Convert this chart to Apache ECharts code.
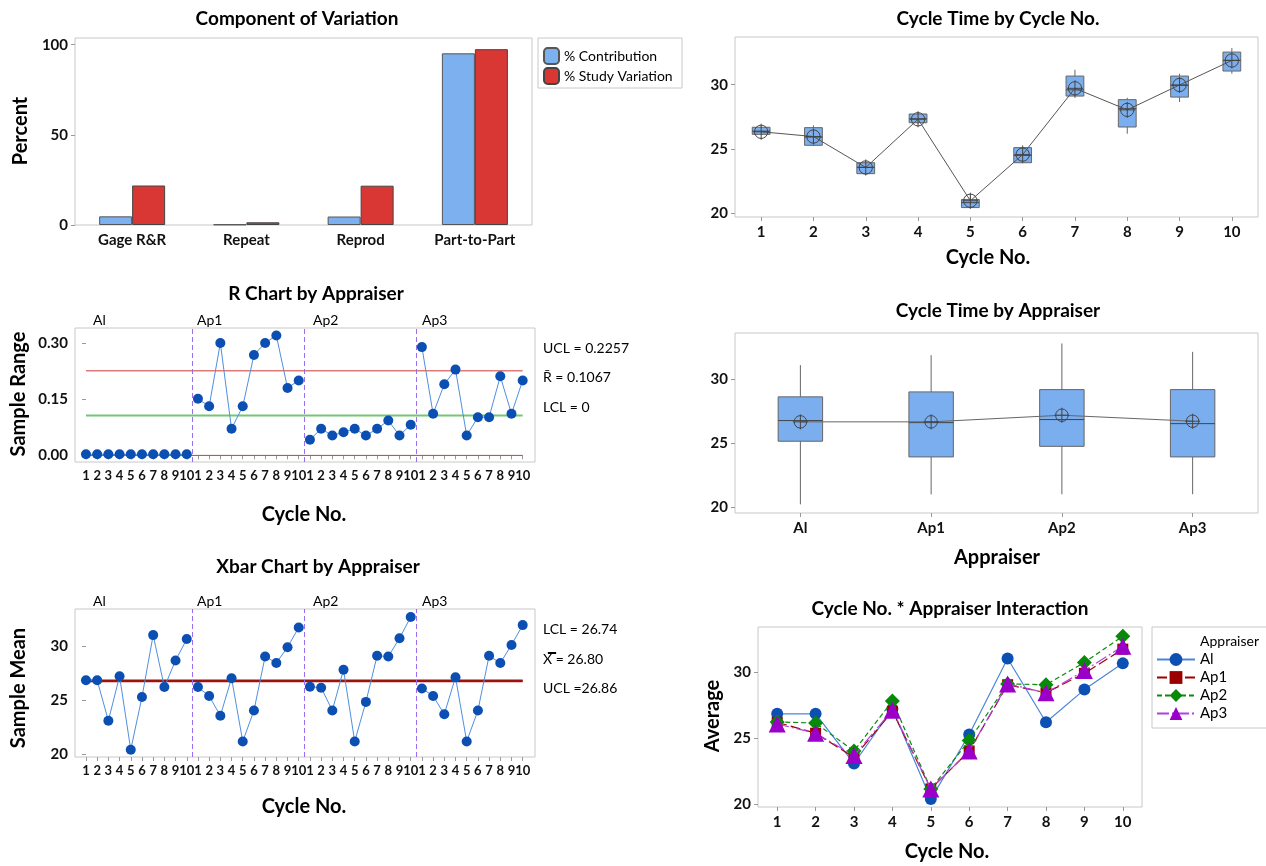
<!DOCTYPE html>
<html>
<head>
<meta charset="utf-8">
<script src="https://cdn.jsdelivr.net/npm/echarts@6/dist/echarts.min.js"></script>
<style>
html,body{margin:0;padding:0;background:#fff}
#main{width:1266px;height:866px}
</style>
</head>
<body>
<div id="main"></div>
<script>
// component of variation
var compCats = ['Gage R&R', 'Repeat', 'Reprod', 'Part-to-Part'];
var pctContribution = [4.8, 0.3, 4.7, 95.2];
var pctStudyVar = [21.9, 1.5, 21.8, 97.5];

// cycle time by cycle no. (min, q1, median, q3, max)
var cycleNos = ['1', '2', '3', '4', '5', '6', '7', '8', '9', '10'];
var cycleBoxes = [
	[26.10, 26.15, 26.40, 26.70, 26.75],
	[25.25, 25.30, 25.94, 26.67, 26.85],
	[23.05, 23.10, 23.60, 23.95, 24.06],
	[27.00, 27.05, 27.36, 27.73, 27.80],
	[20.40, 20.47, 20.85, 21.10, 21.30],
	[23.90, 23.95, 24.52, 25.12, 25.30],
	[28.97, 29.12, 29.60, 30.67, 31.16],
	[26.20, 26.72, 28.14, 28.84, 28.99],
	[28.66, 29.04, 29.95, 30.67, 30.85],
	[30.85, 31.06, 31.89, 32.53, 32.84]
];
var cycleMeans = [26.35, 25.98, 23.58, 27.32, 21.00, 24.58, 29.72, 28.05, 29.98, 31.88];

// appraisers
var appraisers = ['Al', 'Ap1', 'Ap2', 'Ap3'];
var apprBoxes = [
	[20.21, 25.16, 26.78, 28.64, 31.13],
	[20.99, 23.93, 26.62, 29.03, 31.91],
	[21.00, 24.76, 26.86, 29.21, 32.83],
	[21.00, 23.93, 26.54, 29.21, 32.17]
];
var apprMeans = [26.68, 26.68, 27.20, 26.73];

// sample ranges per appraiser, cycle 1..10
var rangeAl  = [0.003, 0.003, 0.003, 0.003, 0.003, 0.003, 0.003, 0.003, 0.003, 0.003];
var rangeAp1 = [0.151, 0.131, 0.300, 0.071, 0.131, 0.268, 0.300, 0.320, 0.180, 0.200];
var rangeAp2 = [0.042, 0.071, 0.053, 0.062, 0.071, 0.053, 0.071, 0.093, 0.053, 0.082];
var rangeAp3 = [0.289, 0.111, 0.190, 0.229, 0.053, 0.102, 0.102, 0.211, 0.111, 0.200];
var rUcl = 0.2257, rBar = 0.1067, rLcl = 0;

// sample means per appraiser, cycle 1..10
var meanAl  = [26.87, 26.87, 23.10, 27.24, 20.40, 25.30, 31.07, 26.23, 28.71, 30.70];
var meanAp1 = [26.23, 25.40, 23.56, 27.06, 21.17, 24.05, 29.08, 28.47, 29.94, 31.78];
var meanAp2 = [26.26, 26.17, 24.05, 27.85, 21.17, 24.85, 29.14, 29.08, 30.77, 32.76];
var meanAp3 = [26.10, 25.40, 23.70, 27.15, 21.17, 24.05, 29.14, 28.47, 30.15, 32.00];
var xUcl = 26.86, xBar = 26.80, xLcl = 26.74;

var rangeGroups = [rangeAl, rangeAp1, rangeAp2, rangeAp3];
var meanGroups = [meanAl, meanAp1, meanAp2, meanAp3];

var FONT = 'Lato';
var blueDot = '#0c4fb3', blueLine = '#4f8fdf', boxFill = '#7aaeee';
var meanSymbol = 'path://M0,-10A10,10,0,1,1,0,10A10,10,0,1,1,0,-10ZM0,-12L0,12M-12,0L12,0';

var pointIdx = [];
for (let i = 0; i < 40; i++) pointIdx.push(i);

function boxRenderer(ratio) {//custom box: whisker without caps, box, median
	return function (params, api) {
		let x = api.value(0);
		let lo = api.coord([x, api.value(1)]);
		let q1 = api.coord([x, api.value(2)]);
		let md = api.coord([x, api.value(3)]);
		let q3 = api.coord([x, api.value(4)]);
		let hi = api.coord([x, api.value(5)]);
		let w = api.size([1, 0])[0] * ratio;
		return {
			type: 'group',
			children: [
				{ type: 'line', shape: { x1: lo[0], y1: lo[1], x2: hi[0], y2: hi[1] }, style: { stroke: '#666', lineWidth: 1 } },
				{ type: 'rect', shape: { x: q3[0] - w / 2, y: q3[1], width: w, height: q1[1] - q3[1] }, style: { fill: boxFill, stroke: '#666', lineWidth: 1 } },
				{ type: 'line', shape: { x1: md[0] - w / 2, y1: md[1], x2: md[0] + w / 2, y2: md[1] }, style: { stroke: '#444', lineWidth: 1 } }
			]
		};
	};
}

var tickLabel = { fontFamily: FONT, fontWeight: 'bold', fontSize: 15, color: '#111' };
var axisTick = { show: true, length: 4, lineStyle: { color: '#999' } };

function yAxis(gi, min, max, vals, fmt) {
	return {
		type: 'value', gridIndex: gi, min: min, max: max,
		axisLine: { show: false }, splitLine: { show: false },
		axisTick: Object.assign({ customValues: vals }, axisTick),
		axisLabel: Object.assign({ customValues: vals, margin: 7, formatter: fmt }, tickLabel)
	};
}
function idxAxis(gi) {//40 points, labels 1..10 for each appraiser
	return {
		type: 'value', gridIndex: gi, min: -0.98, max: 40.1,
		axisLine: { show: false }, splitLine: { show: false },
		axisTick: Object.assign({ customValues: pointIdx }, axisTick),
		axisLabel: Object.assign({ customValues: pointIdx, margin: 7, formatter: function (v) { return String(v % 10 + 1); } }, tickLabel, { fontSize: 13 })
	};
}
function catAxis(gi, cats, ticks) {
	return {
		type: 'category', gridIndex: gi, data: cats, boundaryGap: true,
		axisLine: { show: false },
		axisTick: Object.assign({ alignWithLabel: true }, axisTick, { show: ticks }),
		axisLabel: Object.assign({ margin: 8, interval: 0 }, tickLabel)
	};
}
function flatLine(xi, yi, v, color, width) {
	return {
		type: 'line', xAxisIndex: xi, yAxisIndex: yi, data: [[0, v], [39, v]],
		symbol: 'none', silent: true, lineStyle: { color: color, width: width }, z: 1
	};
}
function dividers(xi, yi) {
	return {
		type: 'line', xAxisIndex: xi, yAxisIndex: yi, data: [], silent: true,
		markLine: {
			symbol: 'none', silent: true, label: { show: false },
			lineStyle: { color: '#9a6cf0', type: [5, 3], width: 1 },
			data: [{ xAxis: 9.5 }, { xAxis: 19.5 }, { xAxis: 29.5 }]
		}
	};
}

var series = [];
// panel 1 bars
series.push({
	name: '% Contribution', type: 'bar', xAxisIndex: 0, yAxisIndex: 0, data: pctContribution,
	barWidth: 33, barGap: '0%', itemStyle: { color: '#7cb0ee', borderColor: '#555', borderWidth: 1 }
});
series.push({
	name: '% Study Variation', type: 'bar', xAxisIndex: 0, yAxisIndex: 0, data: pctStudyVar,
	barWidth: 33, barGap: '0%', itemStyle: { color: '#d83734', borderColor: '#444', borderWidth: 1 }
});
// panel 2 cycle boxes
series.push({
	type: 'custom', xAxisIndex: 1, yAxisIndex: 1, renderItem: boxRenderer(0.34),
	encode: { x: 0, y: [1, 2, 3, 4, 5] },
	data: cycleBoxes.map(function (b, i) { return [i].concat(b); })
});
series.push({
	type: 'line', xAxisIndex: 1, yAxisIndex: 1, data: cycleMeans, symbol: meanSymbol, symbolSize: 16,
	itemStyle: { color: 'rgba(0,0,0,0)', borderColor: '#444', borderWidth: 1 },
	lineStyle: { color: '#555', width: 1 }, z: 5
});
// panel 3 R chart
series.push(dividers(2, 2));
series.push(flatLine(2, 2, rUcl, '#cc3b3b', 1));
series.push(flatLine(2, 2, rBar, '#72c872', 2));
series.push(flatLine(2, 2, rLcl, '#cc3b3b', 1));
rangeGroups.forEach(function (arr, g) {
	series.push({
		type: 'line', xAxisIndex: 2, yAxisIndex: 2,
		data: arr.map(function (v, k) { return [g * 10 + k, v]; }),
		symbol: 'circle', symbolSize: 10, itemStyle: { color: blueDot },
		lineStyle: { color: blueLine, width: 1 }, z: 4
	});
});
// panel 4 Xbar chart
series.push(dividers(3, 3));
series.push(flatLine(3, 3, xUcl, '#b00c0c', 1.5));
series.push(flatLine(3, 3, xLcl, '#b00c0c', 1.5));
series.push(flatLine(3, 3, xBar, '#8a1a10', 1));
meanGroups.forEach(function (arr, g) {
	series.push({
		type: 'line', xAxisIndex: 3, yAxisIndex: 3,
		data: arr.map(function (v, k) { return [g * 10 + k, v]; }),
		symbol: 'circle', symbolSize: 10, itemStyle: { color: blueDot },
		lineStyle: { color: blueLine, width: 1 }, z: 4
	});
});
// panel 5 appraiser boxes
series.push({
	type: 'custom', xAxisIndex: 4, yAxisIndex: 4, renderItem: boxRenderer(0.34),
	encode: { x: 0, y: [1, 2, 3, 4, 5] },
	data: apprBoxes.map(function (b, i) { return [i].concat(b); })
});
series.push({
	type: 'line', xAxisIndex: 4, yAxisIndex: 4, data: apprMeans, symbol: meanSymbol, symbolSize: 15,
	itemStyle: { color: 'rgba(0,0,0,0)', borderColor: '#444', borderWidth: 1 },
	lineStyle: { color: '#666', width: 1 }, z: 5
});
// panel 6 interaction
var interStyles = [
	{ symbol: 'circle', size: 12, mark: '#0c50b4', line: '#4a86d8', dash: 'solid' },
	{ symbol: 'rect', size: 11, mark: '#9a0000', line: '#a00000', dash: [10, 4] },
	{ symbol: 'diamond', size: 15, mark: '#078a07', line: '#0c8a0c', dash: [5, 3] },
	{ symbol: 'triangle', size: 17, mark: '#9a00c8', line: '#b040e0', dash: [12, 3, 2, 3] }
];
meanGroups.forEach(function (arr, g) {
	let s = interStyles[g];
	series.push({
		name: appraisers[g], type: 'line', xAxisIndex: 5, yAxisIndex: 5, data: arr,
		symbol: s.symbol, symbolSize: s.size, itemStyle: { color: s.mark },
		lineStyle: { color: s.line, width: 1.2, type: s.dash }, z: 3 + g
	});
});

function txt(text, x, y, font, rot) {
	return {
		type: 'text', x: x, y: y, rotation: rot || 0, silent: true,
		style: { text: text, font: font, fill: '#000', textAlign: rot ? 'center' : 'left', textVerticalAlign: 'middle' }
	};
}
function ctxt(text, x, y, font) {
	let t = txt(text, x, y, font);
	t.style.textAlign = 'center';
	return t;
}
var TB = 'bold 19px ' + FONT, TA = 'bold 20px ' + FONT, TN = '14px ' + FONT;
var graphics = [
	ctxt('Component of Variation', 297, 19, TB),
	ctxt('Cycle Time by Cycle No.', 998, 19, TB),
	ctxt('R Chart by Appraiser', 316, 294, TB),
	ctxt('Xbar Chart by Appraiser', 318, 567, TB),
	ctxt('Cycle Time by Appraiser', 998, 311, TB),
	ctxt('Cycle No. * Appraiser Interaction', 950, 609, TB),
	txt('Percent', 21, 131, TA, Math.PI / 2),
	txt('Sample Range', 19, 394, TA, Math.PI / 2),
	txt('Sample Mean', 19, 688, TA, Math.PI / 2),
	txt('Average', 713, 716, TA, Math.PI / 2),
	ctxt('Cycle No.', 988, 258, TA),
	ctxt('Cycle No.', 304, 515, TA),
	ctxt('Cycle No.', 304, 807, TA),
	ctxt('Appraiser', 997, 558, TA),
	ctxt('Cycle No.', 947, 852, TA),
	txt('Al', 93, 320, TN), txt('Ap1', 197, 320, TN), txt('Ap2', 313, 320, TN), txt('Ap3', 422, 320, TN),
	txt('Al', 93, 601, TN), txt('Ap1', 197, 601, TN), txt('Ap2', 313, 601, TN), txt('Ap3', 422, 601, TN),
	txt('UCL = 0.2257', 543, 348, TN), txt('R\u0304 = 0.1067', 543, 377, TN), txt('LCL = 0', 543, 407, TN),
	txt('LCL = 26.74', 543, 629, TN), txt('X\u033F = 26.80', 543, 659, TN), txt('UCL =26.86', 543, 688, TN),
	{ type: 'rect', shape: { x: 538, y: 38, width: 144, height: 50 }, style: { fill: 'none', stroke: '#c8c8c8', lineWidth: 1 }, silent: true },
	{ type: 'rect', shape: { x: 1152, y: 627, width: 130, height: 101 }, style: { fill: 'none', stroke: '#c8c8c8', lineWidth: 1 }, silent: true },
	txt('Appraiser', 1200, 641, TN)
];

var gridBase = { show: true, borderColor: '#c8c8c8', borderWidth: 1, backgroundColor: '#fff', containLabel: false };
var option = {
	animation: false,
	backgroundColor: '#fff',
	grid: [
		Object.assign({ left: 75, top: 38, width: 457, height: 187 }, gridBase),
		Object.assign({ left: 735, top: 37, width: 523, height: 180 }, gridBase),
		Object.assign({ left: 75, top: 328, width: 460, height: 134 }, gridBase),
		Object.assign({ left: 75, top: 609, width: 460, height: 148 }, gridBase),
		Object.assign({ left: 735, top: 333, width: 523, height: 180 }, gridBase),
		Object.assign({ left: 758, top: 627, width: 384, height: 180 }, gridBase)
	],
	xAxis: [
		catAxis(0, compCats, false),
		catAxis(1, cycleNos, true),
		idxAxis(2),
		idxAxis(3),
		catAxis(4, appraisers, true),
		catAxis(5, cycleNos, true)
	],
	yAxis: [
		yAxis(0, 0, 103.7, [0, 50, 100]),
		yAxis(1, 19.74, 33.7, [20, 25, 30]),
		yAxis(2, -0.0176, 0.34, [0, 0.15, 0.3], function (v) { return v.toFixed(2); }),
		yAxis(3, 19.72, 33.5, [20, 25, 30]),
		yAxis(4, 19.53, 33.65, [20, 25, 30]),
		yAxis(5, 19.8, 33.46, [20, 25, 30])
	],
	legend: [
		{
			data: ['% Contribution', '% Study Variation'], orient: 'vertical', left: 543, top: 47,
			itemWidth: 15, itemHeight: 16, itemGap: 2, padding: 0,
			textStyle: { fontFamily: FONT, fontSize: 14, color: '#000' }
		},
		{
			data: appraisers, orient: 'vertical', left: 1156, top: 652,
			itemWidth: 38, itemHeight: 16, itemGap: 3, padding: 0,
			textStyle: { fontFamily: FONT, fontSize: 15, color: '#000' }
		}
	],
	graphic: graphics,
	series: series
};

var chart = echarts.init(document.getElementById('main'));
chart.setOption(option);
</script>
</body>
</html>
